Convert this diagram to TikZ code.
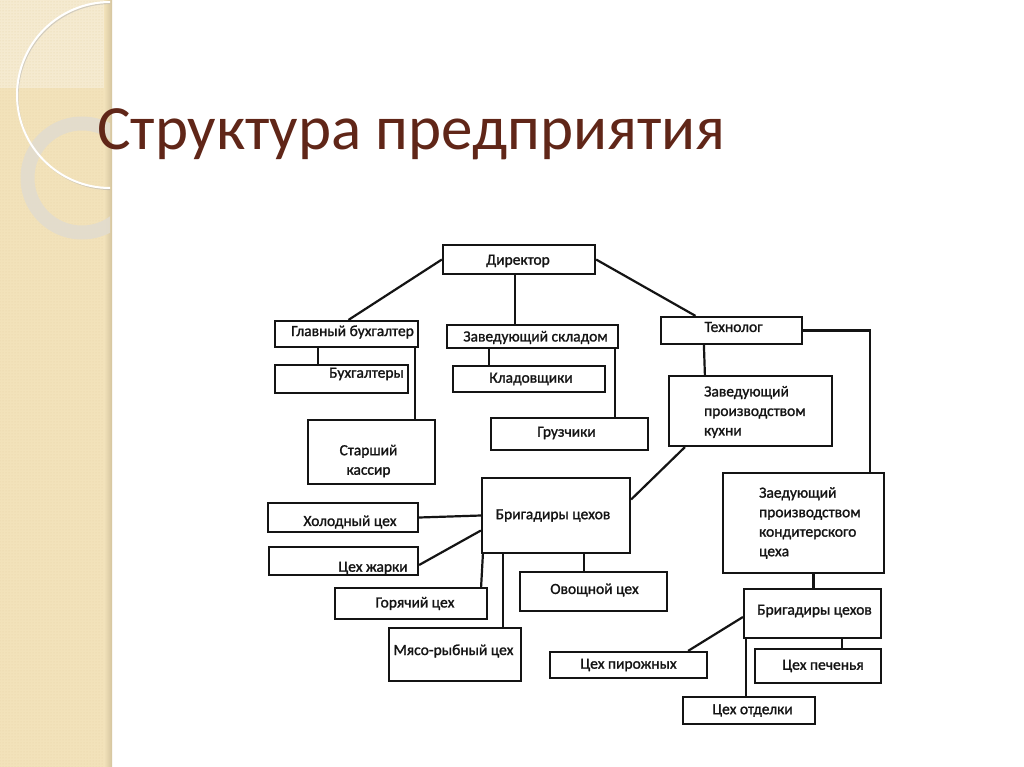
\documentclass[tikz,border=0pt]{standalone}
\usepackage{fontspec}
\setmainfont{Carlito}
\newfontfamily\diagfont{Carlito}[FakeBold=1.3]
\usetikzlibrary{fit,patterns}
\definecolor{sideb}{RGB}{242,226,186}
\definecolor{sidelight}{RGB}{245,234,208}
\definecolor{sideedge}{RGB}{212,196,158}
\definecolor{sidedot}{RGB}{232,212,168}
\definecolor{ringc}{RGB}{226,220,206}
\definecolor{titlec}{RGB}{96,38,24}
\definecolor{ink}{RGB}{20,20,20}
\tikzset{
  box/.style={draw=ink, line width=2.2pt, inner sep=0pt},
  lbl/.style={inner sep=0pt, text=ink, font=\diagfont\fontsize{15.5}{19.5}\selectfont},
  conn/.style={draw=ink, line width=2.2pt}
}
\begin{document}
\begin{tikzpicture}[x=1pt,y=-1pt]
\useasboundingbox (0,0) rectangle (1024,767);
\fill[white] (0,0) rectangle (1024,767);
% sidebar
\fill[sideb] (0,0) rectangle (110,767);
\fill[sidelight] (0,0) rectangle (110,88);
\fill[pattern=dots, pattern color=sidedot] (0,0) rectangle (110,767);
\shade[left color=sideb, right color=sideedge] (104,0) rectangle (112,767);
\begin{scope}
  \clip (0,0) rectangle (110,767);
  \fill[ringc, opacity=0.9, even odd rule] (82,178) circle[radius=61.5] (82,178) circle[radius=47.5];
  \draw[black!30, line width=1.2pt, opacity=0.5] (111,96.5) circle[radius=93];
  \draw[white, line width=2pt] (110,95) circle[radius=93];
\end{scope}
% title
\node[anchor=base west, inner sep=0pt, font=\fontsize{63}{70}\selectfont, text=titlec] (title) at (97,150) {Структура предприятия};
% boxes
\node[box, fit={(443,245) (595,274)}, label={[lbl, xshift=-1pt, yshift=-1.5pt]center:Директор}] (dir) {};
\node[box, fit={(275,321) (418,347)}, label={[lbl, xshift=6pt, yshift=2pt]center:Главный бухгалтер}] (gb) {};
\node[box, fit={(275,365) (408,393)}, label={[lbl, xshift=25pt, yshift=5pt]center:Бухгалтеры}] (buh) {};
\node[box, fit={(308,420) (435,484)}, label={[lbl, align=center, xshift=-3pt, yshift=-9pt]center:{Старший\\кассир}}] (kass) {};
\node[box, fit={(447,325) (618,348)}, label={[lbl, xshift=3pt, yshift=-1pt]center:Заведующий складом}] (zs) {};
\node[box, fit={(453,366) (605,392)}, label={[lbl, xshift=2pt]center:Кладовщики}] (klad) {};
\node[box, fit={(491,418) (648,450)}, label={[lbl, xshift=-3pt, yshift=1pt]center:Грузчики}] (gruz) {};
\node[box, fit={(661,317) (802,344)}, label={[lbl, xshift=2pt, yshift=3.5pt]center:Технолог}] (tech) {};
\node[box, fit={(669,376) (832,446)}, label={[lbl, anchor=west, align=left, xshift=36pt, yshift=-1pt]west:{Заведующий\\производством\\кухни}}] (kuh) {};
\node[box, fit={(482,478) (630,553)}, label={[lbl, xshift=-3pt]center:Бригадиры цехов}] (brig1) {};
\node[box, fit={(268,503) (418,532)}, label={[lbl, xshift=7pt, yshift=-4.5pt]center:Холодный цех}] (hol) {};
\node[box, fit={(269,547) (418,575)}, label={[lbl, xshift=29.5pt, yshift=-7pt]center:Цех жарки}] (zhar) {};
\node[box, fit={(335,588) (487,619)}, label={[lbl, xshift=4pt]center:Горячий цех}] (gor) {};
\node[box, fit={(520,572) (667,611)}, label={[lbl, xshift=1pt, yshift=1.5pt]center:Овощной цех}] (ovosh) {};
\node[box, fit={(389,628) (521,681)}, label={[lbl, xshift=-1.5pt, yshift=3.5pt]center:Мясо-рыбный цех}] (myas) {};
\node[box, fit={(550,652) (707,678)}, label={[lbl, yshift=0pt]center:Цех пирожных}] (pir) {};
\node[box, fit={(723,473) (884,573)}, label={[lbl, anchor=west, align=left, xshift=37pt]west:{Заедующий\\производством\\кондитерского\\цеха}}] (konf) {};
\node[box, fit={(744,589) (881,638)}, label={[lbl, xshift=2pt, yshift=2.5pt]center:Бригадиры цехов}] (brig2) {};
\node[box, fit={(755,649) (881,683)}, label={[lbl, xshift=5pt]center:Цех печенья}] (pech) {};
\node[box, fit={(683,697) (815,724)}, label={[lbl, xshift=3.5pt]center:Цех отделки}] (otd) {};
% connectors
\draw[conn] (dir.west) -- ([xshift=2pt]gb.north);
\draw[conn] ([xshift=-4pt]dir.south) -- ([xshift=-4pt]dir.south |- zs.north);
\draw[conn] (dir.east) -- ([xshift=-36pt]tech.north);
\draw[conn] ([xshift=44pt]gb.south west) -- ([xshift=44pt]gb.south west |- buh.north);
\draw[conn] ([xshift=-4pt]gb.south east) -- ([xshift=-4pt]gb.south east |- kass.north);
\draw[conn] ([xshift=43pt]zs.south west) -- ([xshift=43pt]zs.south west |- klad.north);
\draw[conn] ([xshift=-4pt]zs.south east) -- ([xshift=-4pt]zs.south east |- gruz.north);
\draw[conn] ([xshift=44pt]tech.south west) -- ([xshift=37pt]kuh.north west);
\draw[conn] (tech.east) -| ([xshift=-15pt]konf.north east);
\draw[conn] ([xshift=17pt]kuh.south west) -- ([yshift=16pt]brig1.east);
\draw[conn] (hol.east) -- (brig1.west);
\draw[conn] ([yshift=-4pt]zhar.east) -- ([yshift=-15pt]brig1.west);
\draw[conn] ([xshift=-7pt]gor.north east) -- ([xshift=2pt]brig1.south west);
\draw[conn] ([xshift=22pt]brig1.south west) -- ([xshift=22pt]brig1.south west |- myas.north);
\draw[conn] ([xshift=103pt]brig1.south west) -- ([xshift=103pt]brig1.south west |- ovosh.north);
\draw[conn] ([xshift=10pt]konf.south) -- ([xshift=10pt]konf.south |- brig2.north);
\draw[conn] ([yshift=-3.5pt]brig2.west) -- ([xshift=-20pt]pir.north east);
\draw[conn] ([xshift=99pt]brig2.south west) -- ([xshift=99pt]brig2.south west |- pech.north);
\draw[conn] ([xshift=3pt]brig2.south west) -- ([xshift=3pt]brig2.south west |- otd.north);
\end{tikzpicture}
\end{document}
